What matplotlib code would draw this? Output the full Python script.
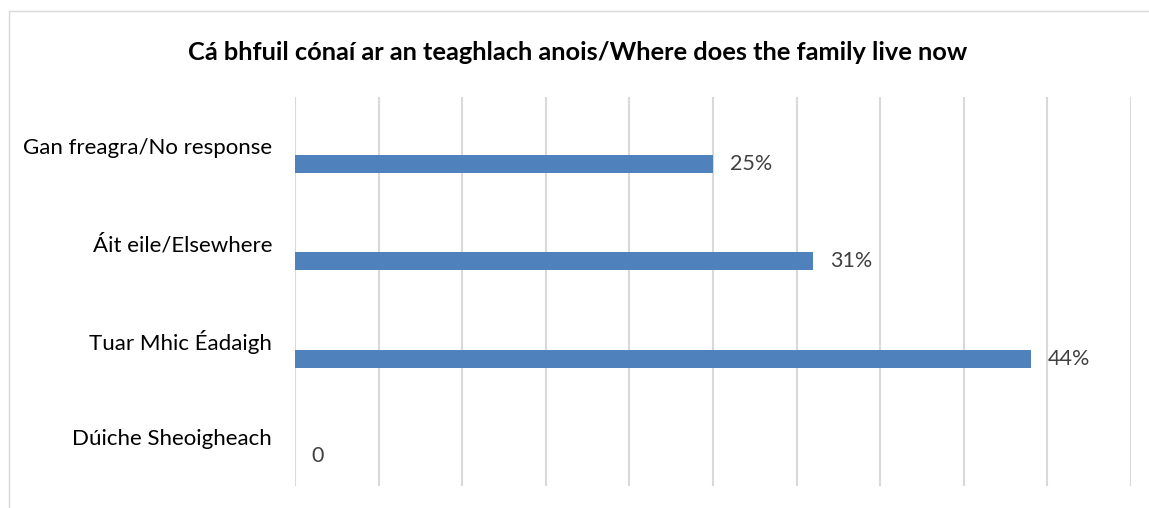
import matplotlib.pyplot as plt
from matplotlib.lines import Line2D

# Chart data (bottom to top, as drawn)
categories = ["Dúiche Sheoigheach", "Tuar Mhic Éadaigh", "Áit eile/Elsewhere", "Gan freagra/No response"]
values = [0, 44, 31, 25]
value_labels = ["0", "44%", "31%", "25%"]
title = "Cá bhfuil cónaí ar an teaghlach anois/Where does the family live now"

plt.rcParams['font.family'] = ['Lato', 'DejaVu Sans']

fig = plt.figure(figsize=(11.49, 5.08), dpi=100)
ax = fig.add_axes([0.2567, 0.0433, 0.9843 - 0.2567, 0.809 - 0.0433])

# chart border (only top and left edges are visible, the rest is cropped)
bx, by = 8.5 / 1149, 1 - 11 / 508
fig.lines.append(Line2D([bx, 1], [by, by], transform=fig.transFigure, color="#D9D9D9", linewidth=1))
fig.lines.append(Line2D([bx, bx], [0, by], transform=fig.transFigure, color="#D9D9D9", linewidth=1))

pos = list(range(len(categories)))
bar_pos = [p - 0.19 for p in pos]
ax.barh(bar_pos, values, height=0.185, color="#4F81BD", zorder=3)

for y, v, lab in zip(bar_pos, values, value_labels):
    ax.text(v + 1.0, y, lab, va="center", ha="left", fontsize=15.5, color="#404040")

ax.set_xlim(0, 50)
ax.set_ylim(-0.5, 3.5)
ax.set_xticks(range(0, 51, 5))
ax.set_xticklabels([])
ax.grid(axis="x", color="#D9D9D9", linewidth=1.5, zorder=0)
ax.set_yticks(pos)
ax.set_yticklabels(categories, fontsize=16, color="#000000")
ax.tick_params(axis="both", length=0)
ax.tick_params(axis="y", pad=16.5)
for s in ax.spines.values():
    s.set_visible(False)

fig.text(0.503, 0.897, title, ha="center", va="center", fontsize=18.3, fontweight="bold")

fig.savefig("out.png", dpi=100)
